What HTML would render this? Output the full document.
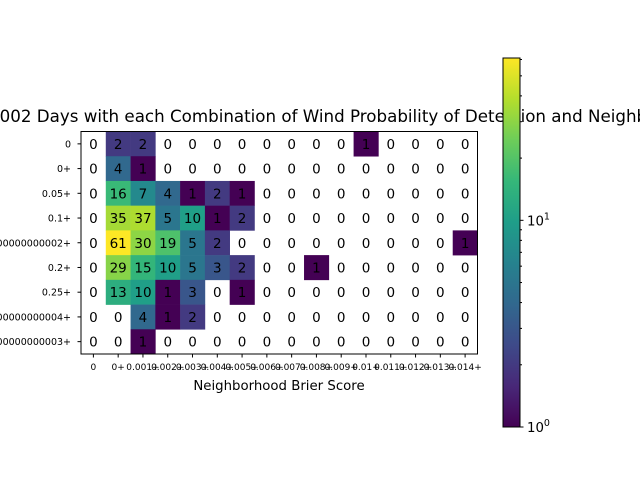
<!DOCTYPE html>
<html><head><meta charset="utf-8"><style>
body{margin:0;background:#fff;}
svg{display:block;font-family:"DejaVu Sans","Liberation Sans",sans-serif;}
</style></head><body>
<svg id="chart" width="640" height="480" viewBox="0 0 640 480">
<text x="-11" y="122" font-size="16.7" fill="#000">2002 Days with each Combination of Wind Probability of Detection and Neighborhood Brier Score</text>
<g id="cells"></g>
<g id="ann"></g>
<rect x="81" y="131.5" width="396.5" height="222.5" fill="none" stroke="#000" stroke-width="1"/>
<g id="xt"></g><g id="yt"></g>
<text x="279" y="390" font-size="13.3" text-anchor="middle">Neighborhood Brier Score</text>
<defs><linearGradient id="vir" x1="0" y1="1" x2="0" y2="0"></linearGradient></defs>
<rect x="503" y="58" width="17" height="369" fill="url(#vir)" stroke="#000" stroke-width="1"/>
<g id="cb"></g>
</svg>
<script>
const xLabels=["0","0+","0.001+","0.002+","0.003+","0.004+","0.005+","0.006+","0.007+","0.008+","0.009+","0.01+","0.011+","0.012+","0.013+","0.014+"];
const yLabels=["0","0+","0.05+","0.1+","0.15000000000000002+","0.2+","0.25+","0.30000000000000004+","0.35000000000000003+"];
const row0=[0,2,2,0,0,0,0,0,0,0,0,1,0,0,0,0];
const row1=[0,4,1,0,0,0,0,0,0,0,0,0,0,0,0,0];
const row2=[0,16,7,4,1,2,1,0,0,0,0,0,0,0,0,0];
const row3=[0,35,37,5,10,1,2,0,0,0,0,0,0,0,0,0];
const row4=[0,61,30,19,5,2,0,0,0,0,0,0,0,0,0,1];
const row5=[0,29,15,10,5,3,2,0,0,1,0,0,0,0,0,0];
const row6=[0,13,10,1,3,0,1,0,0,0,0,0,0,0,0,0];
const row7=[0,0,4,1,2,0,0,0,0,0,0,0,0,0,0,0];
const row8=[0,0,1,0,0,0,0,0,0,0,0,0,0,0,0,0];
const values=[row0,row1,row2,row3,row4,row5,row6,row7,row8];
const NS="http://www.w3.org/2000/svg";
const X0=81,X1=477.5,Y0=131.5,Y1=354;
const cw=(X1-X0)/xLabels.length, ch=(Y1-Y0)/yLabels.length;
const xPos=i=>X0+i*cw, yPos=j=>Y0+j*ch;
let vmax=1;values.forEach(r=>r.forEach(v=>{if(v>vmax)vmax=v;}));
const vir=[[68,1,84],[72,40,120],[62,74,137],[49,104,142],[38,130,142],[31,158,137],[53,183,121],[109,205,89],[180,222,44],[253,231,37]];
function cmap(t){t=Math.max(0,Math.min(1,t));const f=t*(vir.length-1),i=Math.min(Math.floor(f),vir.length-2),u=f-i;
const c=vir[i].map((a,k)=>Math.round(a+(vir[i+1][k]-a)*u));return `rgb(${c})`;}
const norm=v=>Math.log(v)/Math.log(vmax);
function el(t,a,p){const e=document.createElementNS(NS,t);for(const k in a)e.setAttribute(k,a[k]);p.appendChild(e);return e;}
const cells=document.getElementById('cells'),ann=document.getElementById('ann');
values.forEach((r,j)=>r.forEach((v,i)=>{
 if(v>0){const c=el('rect',{x:xPos(i),y:yPos(j),width:cw+0.3,height:ch+0.3,fill:cmap(norm(v))},cells);
 
 }
 const t=el('text',{x:xPos(i)+cw/2,y:yPos(j)+ch/2+5,'font-size':'13.5','text-anchor':'middle',fill:'#000'},ann);
 t.textContent=v;
 
 
}));
const xt=document.getElementById('xt');
xLabels.forEach((l,i)=>{const x=xPos(i)+cw/2;
 el('line',{x1:x,x2:x,y1:Y1,y2:Y1+3.5,stroke:'#000'},xt);
 const t=el('text',{x:x,y:Y1+16,'font-size':'9','text-anchor':'middle'},xt);t.textContent=l;
 
 });
const yt=document.getElementById('yt');
yLabels.forEach((l,j)=>{const y=yPos(j)+ch/2;
 el('line',{x1:X0-3.5,x2:X0,y1:y,y2:y,stroke:'#000'},yt);
 const t=el('text',{x:X0-10,y:y+3.5,'font-size':'9.5','text-anchor':'end'},yt);t.textContent=l;
 
 });
const g=document.getElementById('vir');
vir.forEach((c,i)=>el('stop',{offset:i/(vir.length-1),'stop-color':`rgb(${c})`},g));
const cb=document.getElementById('cb');const CB0=427,CB1=58;
const cy=v=>CB0-(CB0-CB1)*norm(v);
[1,10].forEach((v,k)=>{const y=cy(v);el('line',{x1:520,x2:523.5,y1:y,y2:y,stroke:'#000'},cb);
 const t=el('text',{x:527,y:y+5,'font-size':'13.3'},cb);t.innerHTML='10<tspan dy="-6" font-size="9.5">'+k+'</tspan>';
 
 });
[2,3,4,5,6,7,8,9,20,30,40,50,60].forEach(v=>{if(v<=vmax){const y=cy(v);el('line',{x1:520,x2:522,y1:y,y2:y,stroke:'#000'},cb);}});
</script>
</body></html>
